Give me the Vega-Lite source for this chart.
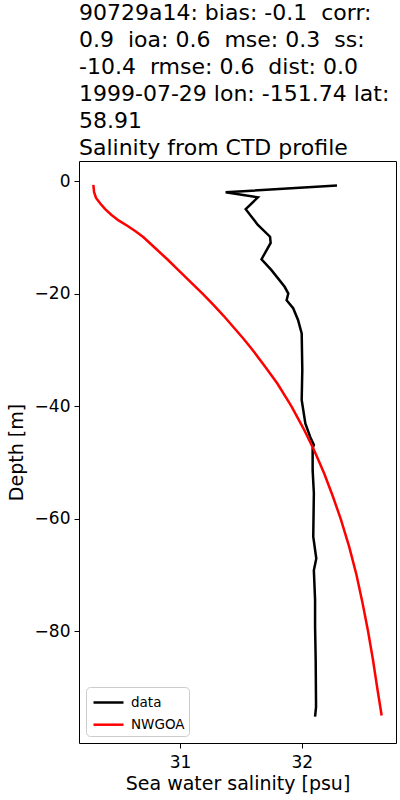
{
  "$schema": "https://vega.github.io/schema/vega-lite/v6.json",
  "autosize": {"type": "none"},
  "width": 317,
  "height": 582,
  "padding": {"left": 79, "top": 161, "right": 4, "bottom": 57},
  "background": "white",
  "title": {
    "text": ["90729a14: bias: -0.1\u00a0 corr:", "0.9\u00a0 ioa: 0.6\u00a0 mse: 0.3\u00a0 ss:", "-10.4\u00a0 rmse: 0.6\u00a0 dist: 0.0", "1999-07-29 lon: -151.74 lat:", "58.91", "Salinity from CTD profile"],
    "anchor": "start",
    "frame": "group",
    "font": "DejaVu Sans",
    "fontSize": 22,
    "fontWeight": "normal",
    "color": "black",
    "lineHeight": 27,
    "offset": 1
  },
  "config": {
    "view": {"stroke": "black", "strokeWidth": 1},
    "font": "DejaVu Sans",
    "axis": {
      "grid": false,
      "domain": false,
      "tickColor": "black",
      "tickSize": 5,
      "labelColor": "black",
      "labelFontSize": 17,
      "labelFont": "DejaVu Sans",
      "labelPadding": 4,
      "titleFont": "DejaVu Sans",
      "titleFontSize": 19,
      "titleFontWeight": "normal",
      "titleColor": "black"
    }
  },
  "data": {
    "values": [
      {"series": "data", "depth": -0.8, "sal": 32.29},
      {"series": "data", "depth": -2.0, "sal": 31.375},
      {"series": "data", "depth": -2.9, "sal": 31.64},
      {"series": "data", "depth": -5.0, "sal": 31.54},
      {"series": "data", "depth": -7.8, "sal": 31.64},
      {"series": "data", "depth": -9.9, "sal": 31.74},
      {"series": "data", "depth": -11.0, "sal": 31.745},
      {"series": "data", "depth": -13.9, "sal": 31.67},
      {"series": "data", "depth": -15.8, "sal": 31.75},
      {"series": "data", "depth": -18.8, "sal": 31.86},
      {"series": "data", "depth": -20.0, "sal": 31.89},
      {"series": "data", "depth": -21.2, "sal": 31.876},
      {"series": "data", "depth": -22.6, "sal": 31.93},
      {"series": "data", "depth": -24.7, "sal": 31.97},
      {"series": "data", "depth": -27.1, "sal": 32.0},
      {"series": "data", "depth": -33.6, "sal": 32.005},
      {"series": "data", "depth": -38.9, "sal": 32.0},
      {"series": "data", "depth": -43.1, "sal": 32.03},
      {"series": "data", "depth": -45.5, "sal": 32.07},
      {"series": "data", "depth": -46.9, "sal": 32.1},
      {"series": "data", "depth": -47.5, "sal": 32.09},
      {"series": "data", "depth": -51.4, "sal": 32.09},
      {"series": "data", "depth": -55.5, "sal": 32.1},
      {"series": "data", "depth": -63.2, "sal": 32.095},
      {"series": "data", "depth": -67.1, "sal": 32.12},
      {"series": "data", "depth": -69.2, "sal": 32.1},
      {"series": "data", "depth": -74.5, "sal": 32.11},
      {"series": "data", "depth": -79.2, "sal": 32.11},
      {"series": "data", "depth": -85.2, "sal": 32.115},
      {"series": "data", "depth": -93.5, "sal": 32.118},
      {"series": "data", "depth": -95.2, "sal": 32.11},
      {"series": "NWGOA", "depth": -0.7, "sal": 30.288},
      {"series": "NWGOA", "depth": -2, "sal": 30.294},
      {"series": "NWGOA", "depth": -3, "sal": 30.31},
      {"series": "NWGOA", "depth": -4, "sal": 30.345},
      {"series": "NWGOA", "depth": -5, "sal": 30.385},
      {"series": "NWGOA", "depth": -6, "sal": 30.435},
      {"series": "NWGOA", "depth": -7, "sal": 30.495},
      {"series": "NWGOA", "depth": -8, "sal": 30.57},
      {"series": "NWGOA", "depth": -9, "sal": 30.64},
      {"series": "NWGOA", "depth": -10, "sal": 30.7},
      {"series": "NWGOA", "depth": -12, "sal": 30.8},
      {"series": "NWGOA", "depth": -14, "sal": 30.9},
      {"series": "NWGOA", "depth": -16, "sal": 30.995},
      {"series": "NWGOA", "depth": -18, "sal": 31.09},
      {"series": "NWGOA", "depth": -20, "sal": 31.185},
      {"series": "NWGOA", "depth": -22, "sal": 31.275},
      {"series": "NWGOA", "depth": -24, "sal": 31.36},
      {"series": "NWGOA", "depth": -26, "sal": 31.44},
      {"series": "NWGOA", "depth": -28, "sal": 31.52},
      {"series": "NWGOA", "depth": -30, "sal": 31.595},
      {"series": "NWGOA", "depth": -33, "sal": 31.7},
      {"series": "NWGOA", "depth": -36, "sal": 31.8},
      {"series": "NWGOA", "depth": -40, "sal": 31.915},
      {"series": "NWGOA", "depth": -44, "sal": 32.015},
      {"series": "NWGOA", "depth": -48, "sal": 32.105},
      {"series": "NWGOA", "depth": -52, "sal": 32.185},
      {"series": "NWGOA", "depth": -56, "sal": 32.255},
      {"series": "NWGOA", "depth": -60, "sal": 32.32},
      {"series": "NWGOA", "depth": -65, "sal": 32.39},
      {"series": "NWGOA", "depth": -70, "sal": 32.45},
      {"series": "NWGOA", "depth": -75, "sal": 32.5},
      {"series": "NWGOA", "depth": -80, "sal": 32.545},
      {"series": "NWGOA", "depth": -85, "sal": 32.585},
      {"series": "NWGOA", "depth": -90, "sal": 32.62},
      {"series": "NWGOA", "depth": -95, "sal": 32.657}
    ]
  },
  "mark": {"type": "line", "strokeWidth": 2.5, "clip": true},
  "encoding": {
    "x": {
      "field": "sal",
      "type": "quantitative",
      "title": "Sea water salinity [psu]",
      "scale": {"domain": [30.17, 32.775], "nice": false, "zero": false},
      "axis": {"values": [31, 32], "format": "d", "labelPadding": 6, "titlePadding": 4}
    },
    "y": {
      "field": "depth",
      "type": "quantitative",
      "title": "Depth [m]",
      "scale": {"domain": [-99.9, 3.56], "nice": false, "zero": false},
      "axis": {"values": [0, -20, -40, -60, -80], "format": "d", "labelExpr": "replace(datum.label, '-', '\u2212')", "titlePadding": 8}
    },
    "order": {"field": "depth", "sort": "descending"},
    "color": {
      "field": "series",
      "type": "nominal",
      "scale": {"domain": ["data", "NWGOA"], "range": ["black", "red"]},
      "legend": {
        "title": null,
        "orient": "bottom-left",
        "offset": 7,
        "symbolType": "M-0.8,0H2.2",
        "symbolStrokeWidth": 2.5,
        "symbolSize": 400,
        "labelFontSize": 13.5,
        "labelFont": "DejaVu Sans",
        "labelColor": "black",
        "labelOffset": 18,
        "rowPadding": 4.2,
        "padding": 4,
        "fillColor": "white",
        "strokeColor": "#cccccc",
        "cornerRadius": 4
      }
    }
  }
}
